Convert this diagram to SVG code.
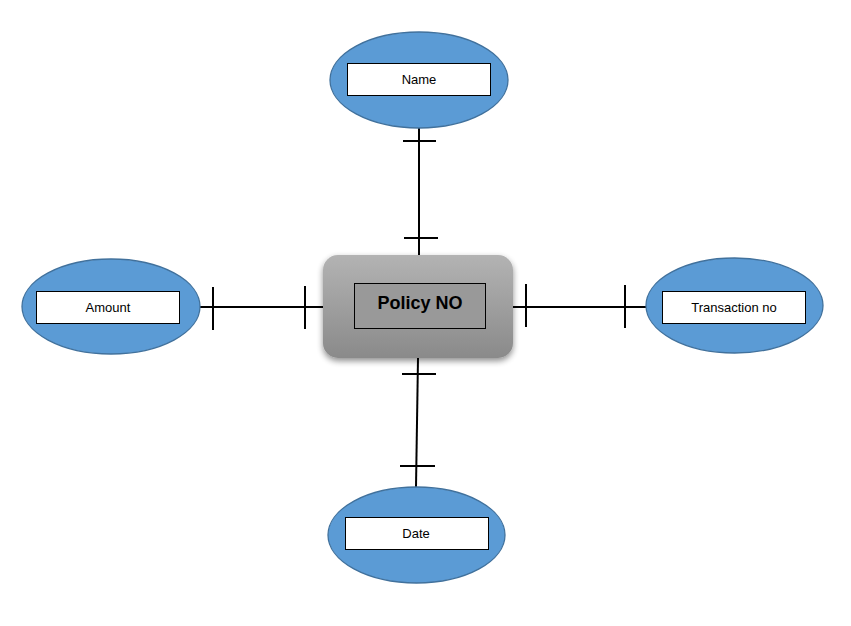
<svg xmlns="http://www.w3.org/2000/svg" width="851" height="626" viewBox="0 0 851 626">
<style>
.attr{fill:#5b9bd5;stroke:#41719c;stroke-width:1.3}
.lbl{fill:#fff;stroke:#000;stroke-width:1}
.t{font-family:"Liberation Sans","Open Sans",sans-serif;font-size:13px;fill:#000;text-anchor:middle;dominant-baseline:central}
.c line{stroke:#000;stroke-width:2}
</style>
<defs>
<linearGradient id="g" x1="0" y1="0" x2="0" y2="1">
<stop offset="0" stop-color="#b3b3b3"/>
<stop offset="1" stop-color="#8a8a8a"/>
</linearGradient>
<filter id="sh" x="-20%" y="-20%" width="140%" height="150%">
<feGaussianBlur in="SourceAlpha" stdDeviation="3"/>
<feOffset dx="0" dy="3"/>
<feComponentTransfer><feFuncA type="linear" slope="0.45"/></feComponentTransfer>
<feMerge><feMergeNode/><feMergeNode in="SourceGraphic"/></feMerge>
</filter>
</defs>
<rect width="851" height="626" fill="#fff"/>
<g class="c" id="connectors">
<line x1="419" y1="128" x2="419" y2="255"/>
<line x1="403" y1="141" x2="436" y2="141"/>
<line x1="404" y1="238" x2="438" y2="238"/>
<line x1="200" y1="307" x2="323" y2="307"/>
<line x1="213" y1="287" x2="213" y2="330"/>
<line x1="305" y1="286" x2="305" y2="329"/>
<line x1="513" y1="307" x2="646" y2="307"/>
<line x1="526" y1="284" x2="526" y2="327"/>
<line x1="625" y1="285" x2="625" y2="328"/>
<line x1="418" y1="358" x2="416" y2="487"/>
<line x1="402" y1="374" x2="436" y2="374"/>
<line x1="400" y1="466" x2="435" y2="466"/>
</g>
<g id="policy">
<rect x="323" y="255" width="190" height="103" rx="15" fill="url(#g)" filter="url(#sh)"/>
<rect x="354.5" y="283.5" width="131" height="45" fill="#999" stroke="#000" stroke-width="1"/>
<text x="420" y="303" class="t" style="font-size:18px;font-weight:bold">Policy NO</text>
</g>
<g id="name">
<ellipse cx="419" cy="80" rx="89" ry="48" class="attr"/>
<rect x="347.5" y="63.5" width="143" height="32" class="lbl"/>
<text x="419" y="79" class="t">Name</text>
</g>
<g id="amount">
<ellipse cx="111" cy="306.5" rx="89" ry="47.5" class="attr"/>
<rect x="36.5" y="291.5" width="143" height="32" class="lbl"/>
<text x="108" y="307" class="t">Amount</text>
</g>
<g id="transaction">
<ellipse cx="734.5" cy="305.5" rx="88.5" ry="47.5" class="attr"/>
<rect x="662.5" y="291.5" width="143" height="32" class="lbl"/>
<text x="734" y="307" class="t">Transaction no</text>
</g>
<g id="date">
<ellipse cx="416.5" cy="535" rx="88.5" ry="48" class="attr"/>
<rect x="345.5" y="517.5" width="143" height="32" class="lbl"/>
<text x="416" y="533" class="t">Date</text>
</g>
</svg>
